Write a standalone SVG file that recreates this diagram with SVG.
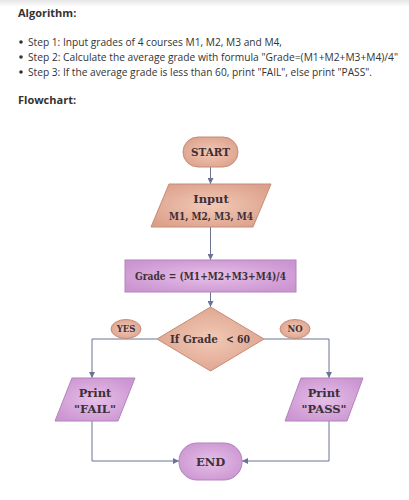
<svg xmlns="http://www.w3.org/2000/svg" width="409" height="500" viewBox="0 0 409 500">
<defs>
<linearGradient id="topShade" x1="0" y1="0" x2="0" y2="1">
<stop offset="0" stop-color="#e6e6e6"/>
<stop offset="1" stop-color="#ffffff"/>
</linearGradient>
<radialGradient id="salmon" cx="0.5" cy="0.5" r="0.6">
<stop offset="0" stop-color="#f2c9b6"/>
<stop offset="1" stop-color="#dca18b"/>
</radialGradient>
<radialGradient id="purple" cx="0.5" cy="0.5" r="0.6">
<stop offset="0" stop-color="#e6bfe8"/>
<stop offset="1" stop-color="#cb95d1"/>
</radialGradient>
<marker id="arr" viewBox="0 0 10 10" refX="10" refY="5" markerWidth="6" markerHeight="6" orient="auto" markerUnits="userSpaceOnUse">
<path d="M0,0 L10,5 L0,10 z" fill="#6b7394"/>
</marker>
</defs>
<style>
.hdr{font-family:"Open Sans","Noto Sans",sans-serif;font-weight:bold;font-size:11px;fill:#333}
.step{font-family:"Open Sans","Noto Sans",sans-serif;font-size:10.5px;fill:#333}
.lbl{font-family:"DejaVu Serif","Liberation Serif",serif;font-weight:bold;font-size:11.5px;fill:#3d3038;text-anchor:middle}
.lbs{font-family:"DejaVu Serif","Liberation Serif",serif;font-weight:bold;font-size:11.5px;fill:#3d3038;text-anchor:start}
.sm{font-family:"DejaVu Serif","Liberation Serif",serif;font-weight:bold;font-size:8.5px;fill:#3d3038;text-anchor:middle}
.s{fill:url(#salmon);stroke:#c48c79;stroke-width:1}
.p{fill:url(#purple);stroke:#b383bb;stroke-width:1}
.c{fill:none;stroke:#6b7394;stroke-width:1}
</style>
<rect x="0" y="0" width="409" height="500" fill="#ffffff"/>
<rect x="0" y="0" width="409" height="7" fill="url(#topShade)"/>
<g id="algorithm">
<text class="hdr" x="18" y="17">Algorithm:</text>
<circle cx="21" cy="42" r="1.8" fill="#333"/>
<circle cx="21" cy="57" r="1.8" fill="#333"/>
<circle cx="21" cy="72" r="1.8" fill="#333"/>
<text class="step" x="28" y="46" textLength="254" lengthAdjust="spacingAndGlyphs">Step 1: Input grades of 4 courses M1, M2, M3 and M4,</text>
<text class="step" x="28" y="61" textLength="370" lengthAdjust="spacingAndGlyphs">Step 2: Calculate the average grade with formula "Grade=(M1+M2+M3+M4)/4"</text>
<text class="step" x="28" y="76" textLength="344" lengthAdjust="spacingAndGlyphs">Step 3: If the average grade is less than 60, print "FAIL", else print "PASS".</text>
<text class="hdr" x="18" y="104">Flowchart:</text>
</g>
<g id="connectors">
<line class="c" x1="210.5" y1="167" x2="210.5" y2="184" marker-end="url(#arr)"/>
<line class="c" x1="210.5" y1="227" x2="210.5" y2="260" marker-end="url(#arr)"/>
<line class="c" x1="210.5" y1="292" x2="210.5" y2="307" marker-end="url(#arr)"/>
<polyline class="c" points="157,339 92,339 92,378" marker-end="url(#arr)"/>
<polyline class="c" points="264,339 329,339 329,378" marker-end="url(#arr)"/>
<polyline class="c" points="92,421 92,461 179,461" marker-end="url(#arr)"/>
<polyline class="c" points="329,421 329,461 242,461" marker-end="url(#arr)"/>
</g>
<g id="start">
<rect class="s" x="183" y="137" width="55" height="30" rx="15" ry="15"/>
<text class="lbl" x="210.5" y="156" textLength="39" lengthAdjust="spacingAndGlyphs">START</text>
</g>
<g id="input">
<polygon class="s" points="169,184 271,184 253,227 151,227"/>
<text class="lbl" x="211" y="203">Input</text>
<text class="lbl" x="211" y="220" textLength="84" lengthAdjust="spacingAndGlyphs">M1, M2, M3, M4</text>
</g>
<g id="grade">
<rect class="p" x="125" y="260" width="171" height="32"/>
<text class="lbl" x="210.5" y="280" textLength="151" lengthAdjust="spacingAndGlyphs">Grade = (M1+M2+M3+M4)/4</text>
</g>
<g id="decision">
<polygon class="s" points="210.5,307 264,339 210.5,371 157,339"/>
<text class="lbs" x="170" y="343" textLength="48" lengthAdjust="spacingAndGlyphs">If Grade</text>
<text class="lbs" x="226" y="343" textLength="24" lengthAdjust="spacingAndGlyphs">&lt; 60</text>
</g>
<g id="yes">
<ellipse class="s" cx="126" cy="329" rx="15" ry="9.5"/>
<text class="sm" x="126" y="332">YES</text>
</g>
<g id="no">
<ellipse class="s" cx="295" cy="329" rx="15" ry="9.5"/>
<text class="sm" x="295" y="332">NO</text>
</g>
<g id="fail">
<polygon class="p" points="72,378 135,378 118,421 55,421"/>
<text class="lbl" x="95" y="397">Print</text>
<text class="lbl" x="95" y="413">"FAIL"</text>
</g>
<g id="pass">
<polygon class="p" points="301,378 363,378 347,421 285,421"/>
<text class="lbl" x="324" y="397">Print</text>
<text class="lbl" x="324" y="413">"PASS"</text>
</g>
<g id="end">
<rect class="p" x="179" y="443" width="63" height="37" rx="18" ry="18"/>
<text class="lbl" x="210.5" y="466">END</text>
</g>
</svg>
